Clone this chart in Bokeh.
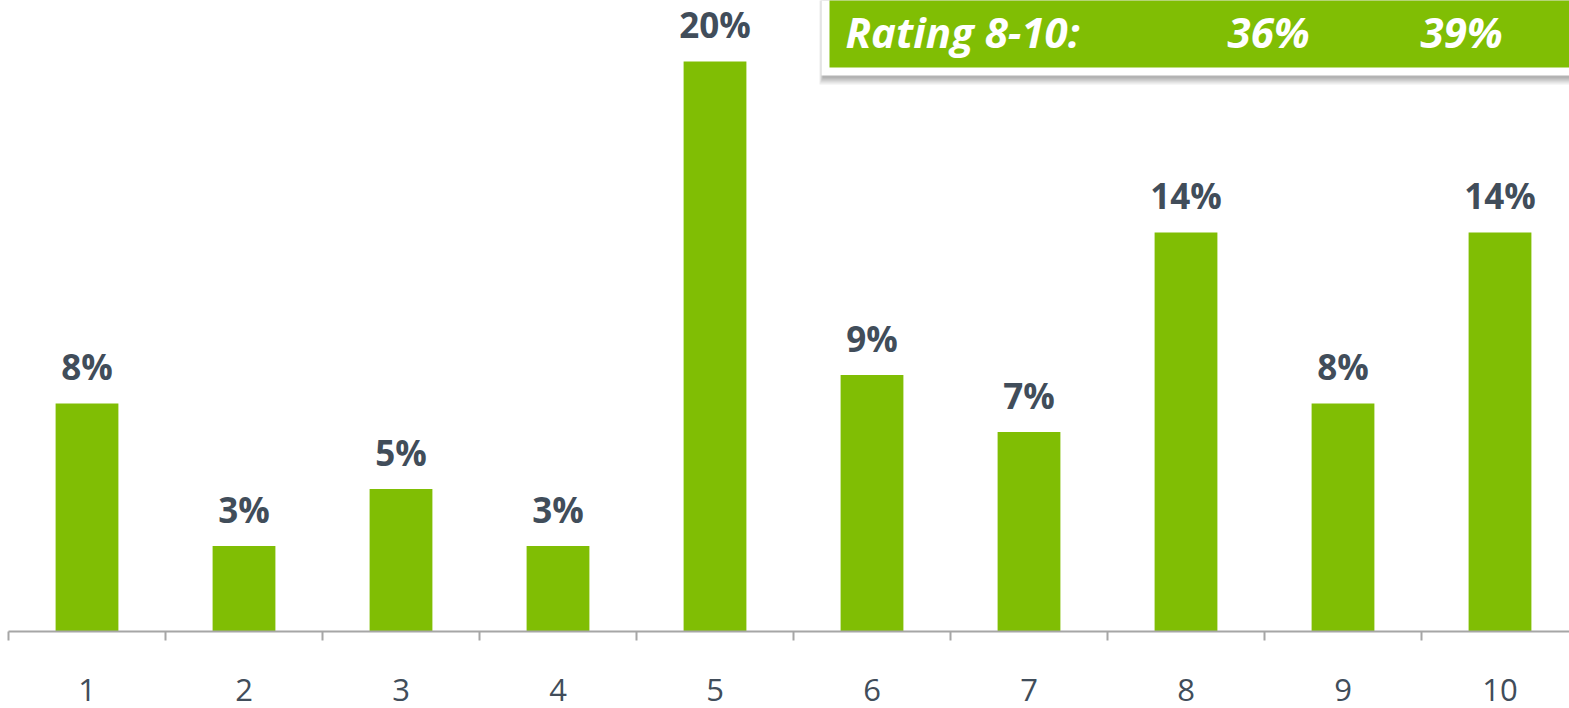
from bokeh.plotting import figure
from bokeh.models import Range1d, FixedTicker, ColumnDataSource
from bokeh.core.properties import value
from bokeh.embed import file_html
from bokeh.resources import INLINE

# Data
ratings = [1, 2, 3, 4, 5, 6, 7, 8, 9, 10]
shares = [8, 3, 5, 3, 20, 9, 7, 14, 8, 14]
share_labels = [f"{v}%" for v in shares]
summary_label = "Rating 8-10:"
summary_values = ["36%", "39%"]

GREEN = "#80BE04"
TEXT = "#414D5A"
AXIS = "#A6A6A6"

FW, FH = 1569, 631
px_per_cat = 157.0
x_start = 0.5 - 8 / px_per_cat
px_per_unit = 28.5


def dx(sx):
    return 0.5 + (sx - 8) / px_per_cat


def dy(sy):
    return (FH - sy) / px_per_unit


p = figure(
    frame_width=FW, frame_height=FH,
    x_range=Range1d(x_start, x_start + FW / px_per_cat),
    y_range=Range1d(0, FH / px_per_unit),
    output_backend="svg", toolbar_location=None,
    min_border=0, min_border_left=0, min_border_right=0, min_border_top=0,
    min_border_bottom=77,
    outline_line_color=None,
)
p.grid.visible = False
p.yaxis.visible = False
p.background_fill_color = "white"
p.border_fill_color = "white"

src = ColumnDataSource(dict(x=ratings, top=shares, lab=share_labels))
p.vbar(x="x", top="top", bottom=0, width=0.4, source=src,
       fill_color=GREEN, line_color=None)
p.text(x="x", y="top", text="lab", source=src, text_align="center",
       text_baseline="alphabetic", y_offset=-37,
       text_font=value("Open Sans"), text_font_style="bold",
       text_font_size="35px", text_color=TEXT)

ax = p.xaxis[0]
ax.ticker = FixedTicker(ticks=ratings, minor_ticks=[r - 0.5 for r in ratings])
ax.bounds = (0.5, 12)
ax.axis_line_color = AXIS
ax.axis_line_width = 2
ax.major_tick_line_color = None
ax.major_tick_out = 0
ax.major_tick_in = 0
ax.minor_tick_line_color = AXIS
ax.minor_tick_line_width = 2
ax.minor_tick_out = 9
ax.minor_tick_in = 0
ax.major_label_text_font = "Open Sans"
ax.major_label_text_font_size = "31px"
ax.major_label_text_color = TEXT
ax.major_label_standoff = 38

# Summary box (top right) with a soft shadow
x_right = 12
y_top = 25
for i, a in enumerate([0.10, 0.12, 0.14, 0.16]):
    off = 9 - 2 * i
    p.quad(left=dx(821 - 2 + i), right=x_right, bottom=dy(75 + off),
           top=y_top, fill_color="#505050", fill_alpha=a, line_color=None)
p.quad(left=dx(821), right=x_right, bottom=dy(75), top=y_top,
       fill_color="white", line_color=None)
p.quad(left=dx(829), right=x_right, bottom=dy(67), top=y_top,
       fill_color=GREEN, line_color=None)

box_src = ColumnDataSource(dict(
    x=[dx(845), dx(1227), dx(1420)],
    y=[dy(31)] * 3,
    t=[summary_label] + summary_values,
))
p.text(x="x", y="y", text="t", source=box_src, text_align="left",
       text_baseline="alphabetic", text_font=value("Open Sans"),
       text_font_style="bold italic", text_font_size="42px",
       text_color="white")

open("out.html", "w").write(file_html(p, INLINE))
